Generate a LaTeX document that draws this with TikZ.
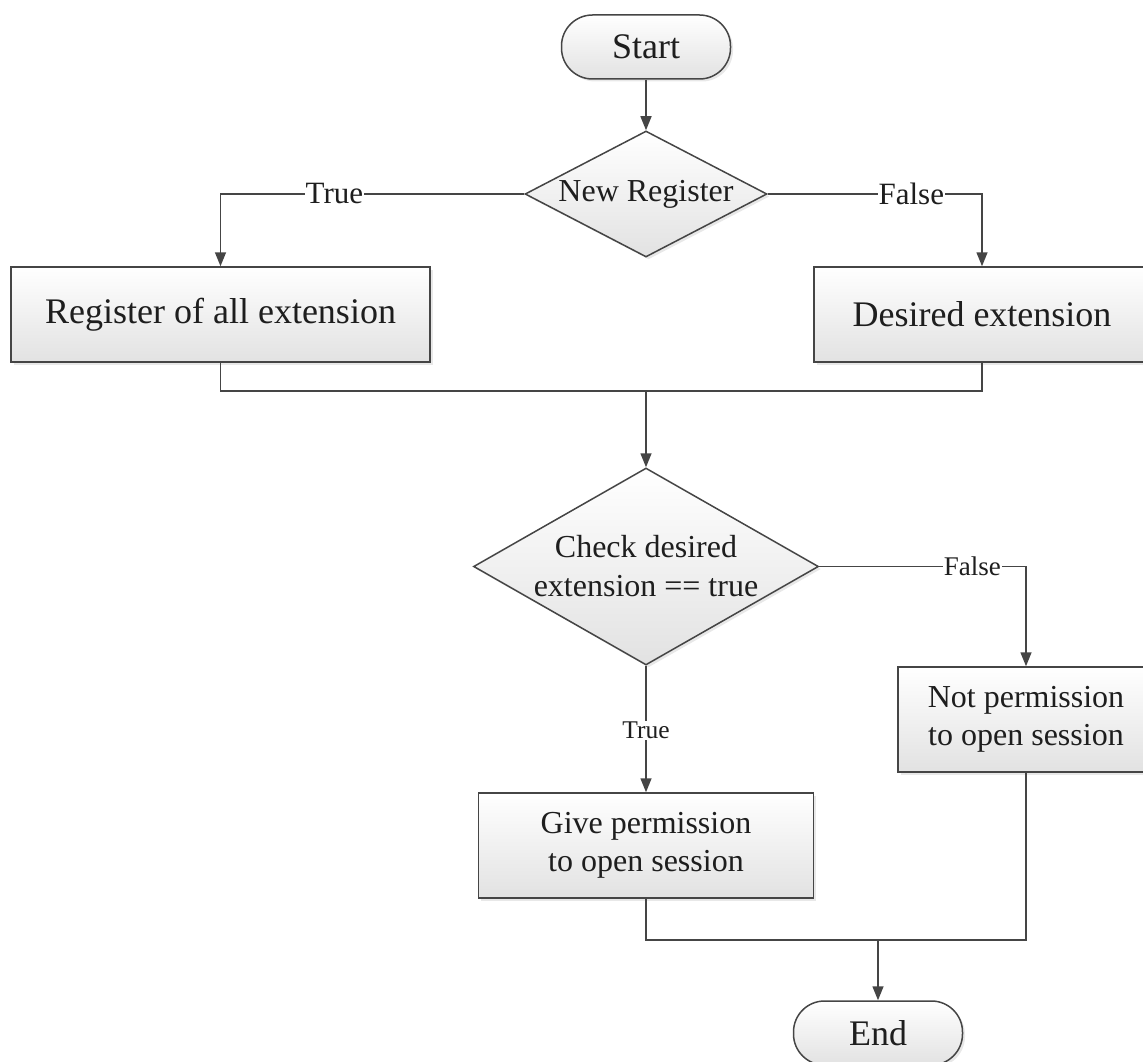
\documentclass[tikz,border=0pt]{standalone}
\usepackage{fontspec}
\setmainfont{Liberation Serif}
\usetikzlibrary{arrows.meta,shapes.geometric,shadows}

\definecolor{linegray}{HTML}{454545}
\definecolor{inkgray}{HTML}{1E1E1E}
\definecolor{fillbottom}{HTML}{E2E2E2}

\tikzset{
  shapefill/.style={draw=linegray, line width=1.5pt, top color=white,
    bottom color=fillbottom, text=inkgray, inner sep=0pt,
    drop shadow={shadow xshift=2.5pt, shadow yshift=-2.5pt, opacity=0.18}},
  terminal/.style={shapefill, rectangle, rounded corners=31pt,
    minimum width=169pt, minimum height=64pt,
    font=\fontsize{36}{40}\selectfont},
  processbox/.style={shapefill, rectangle, align=center},
  bigtext/.style={font=\fontsize{36}{40}\selectfont},
  midtext/.style={font=\fontsize{32}{38}\selectfont},
  decision/.style={shapefill, diamond, align=center,
    font=\fontsize{32}{39}\selectfont},
  flow/.style={draw=linegray, line width=1.5pt},
  arrowflow/.style={flow, -{Triangle[length=14pt,width=11pt]}},
  edgelabel/.style={fill=white, inner sep=1pt, text=inkgray},
}

\begin{document}
\begin{tikzpicture}[x=1pt, y=-1pt]
  \useasboundingbox (0,0) rectangle (1143,1062);
  \clip (0,0) rectangle (1143,1062);

  % nodes
  \node[terminal] (start) at (646,47) {Start};
  \node[decision, shape aspect=1.92, minimum width=242pt, minimum height=126pt] (newreg) at (646,194) {New Register};
  \node[processbox, bigtext, minimum width=419pt, minimum height=95pt] (allext) at (220.5,314.5) {Register of all extension};
  \node[processbox, bigtext, minimum width=336pt, minimum height=95pt] (desext) at (982,314.5) {Desired extension};
  \node[decision, shape aspect=1.75, minimum width=345pt, minimum height=197pt] (check) at (646,566.5) {Check desired\\extension == true};
  \node[processbox, midtext, minimum width=335pt, minimum height=105pt] (give) at (646,845.5) {Give permission\\to open session};
  \node[processbox, midtext, minimum width=256pt, minimum height=105pt] (deny) at (1026,719.5) {Not permission\\to open session};
  \node[terminal] (finish) at (878,1033) {End};

  \coordinate (join1) at (646,391);
  \coordinate (join2) at (878,940);

  % connectors
  \draw[arrowflow] (start) -- (newreg);
  \draw[arrowflow] (newreg.west)
    -- node[edgelabel, pos=0.625, font=\fontsize{31}{36}\selectfont] {True} (allext.north |- newreg.west)
    -- (allext.north);
  \draw[arrowflow] (newreg.east)
    -- node[edgelabel, pos=0.67, font=\fontsize{31}{36}\selectfont] {False} (desext.north |- newreg.east)
    -- (desext.north);

  \draw[flow] (allext.south) |- (join1) -| (desext.south);
  \draw[arrowflow] (join1) -- (check.north);

  \draw[arrowflow] (check.east)
    -- node[edgelabel, pos=0.74, font=\fontsize{27}{32}\selectfont] {False} (deny.north |- check.east)
    -- (deny.north);
  \draw[arrowflow] (check.south)
    -- node[edgelabel, pos=0.51, font=\fontsize{25.5}{30}\selectfont] {True} (give.north);

  \draw[flow] (give.south) |- (join2) -| (deny.south);
  \draw[arrowflow] (join2) -- (finish.north);
\end{tikzpicture}
\end{document}
